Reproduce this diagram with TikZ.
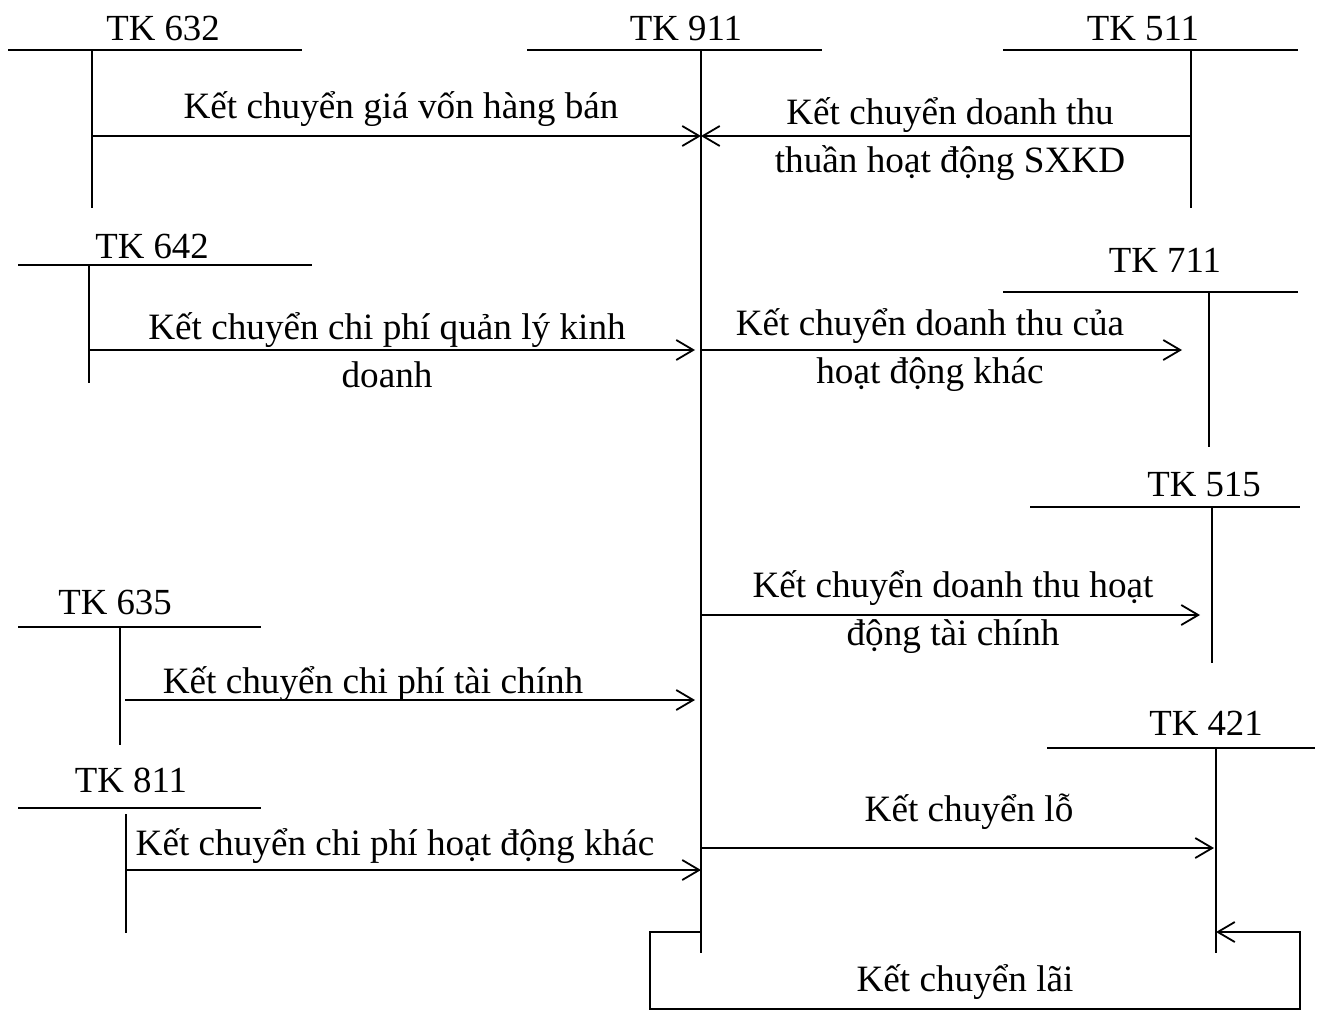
\documentclass[tikz,border=0pt]{standalone}
\usepackage{fontspec}
\setmainfont{Liberation Serif}
\usetikzlibrary{arrows.meta, positioning}

\begin{document}
\begin{tikzpicture}[
      x=0.5pt, y=-0.5pt,
      line width=0.9pt,
      acc/.style={font=\fontsize{18.4}{24}\selectfont, anchor=base, inner sep=0pt},
      txt/.style={font=\fontsize{18.6}{24}\selectfont, anchor=base, align=center, inner sep=0pt},
      flow/.style={-{Straight Barb[length=8.5pt, width=10pt, line width=0.9pt]}},
    ]
      \useasboundingbox (0,0) rectangle (1320,1012);

      % T accounts
      \node[acc] (tk632) at (163, 40) {TK 632};
      \draw (8,50) -- (302,50);   \draw (92,50) -- (92,208);
      \node[acc] (tk911) at (686, 40) {TK 911};
      \draw (527,50) -- (822,50); \draw (701,50) -- (701,953);
      \node[acc] (tk511) at (1143, 40) {TK 511};
      \draw (1003,50) -- (1298,50); \draw (1191,50) -- (1191,208);

      \node[acc] (tk642) at (152, 258) {TK 642};
      \draw (18,265) -- (312,265); \draw (89,265) -- (89,383);
      \node[acc] (tk711) at (1165, 272) {TK 711};
      \draw (1003,292) -- (1298,292); \draw (1209,292) -- (1209,447);
      \node[acc] (tk515) at (1204, 496) {TK 515};
      \draw (1030,507) -- (1300,507); \draw (1212,507) -- (1212,663);
      \node[acc] (tk635) at (115, 614) {TK 635};
      \draw (18,627) -- (261,627); \draw (120,627) -- (120,745);
      \node[acc] (tk811) at (131, 792) {TK 811};
      \draw (18,808) -- (261,808); \draw (126,814) -- (126,933);
      \node[acc] (tk421) at (1206, 735) {TK 421};
      \draw (1047,748) -- (1315,748); \draw (1216,748) -- (1216,953);

      % arrow ends
      \coordinate (s632) at (92,136);   \coordinate (e632) at (701,136);
      \coordinate (s511) at (1191,136); \coordinate (e511) at (701,136);
      \coordinate (s642) at (89,350);   \coordinate (e642) at (695,350);
      \coordinate (s711) at (701,350);  \coordinate (e711) at (1182,350);
      \coordinate (s515) at (701,615);  \coordinate (e515) at (1200,615);
      \coordinate (s635) at (125,700);  \coordinate (e635) at (695,700);
      \coordinate (s811) at (126,870);  \coordinate (e811) at (701,870);
      \coordinate (slo) at (701,848);   \coordinate (elo) at (1214,848);
      \coordinate (sla) at (701,932);   \coordinate (ela) at (1216,932);

      \draw[flow] (s632) -- (e632);
      \draw[flow] (s511) -- (e511);
      \draw[flow] (s642) -- (e642);
      \draw[flow] (s711) -- (e711);
      \draw[flow] (s515) -- (e515);
      \draw[flow] (s635) -- (e635);
      \draw[flow] (s811) -- (e811);
      \draw[flow] (slo) -- (elo);
      \draw[flow] (sla) -- (650,932) -- (650,1009) -- (1300,1009) -- (1300,932) -- (ela);

      % labels (base = last line)
      \node[txt] (l632) at (401,118) {Kết chuyển giá vốn hàng bán};
      \node[txt] (l511) at (950,172) {Kết chuyển doanh thu\\thuần hoạt động SXKD};
      \node[txt] (l642) at (387,387) {Kết chuyển chi phí quản lý kinh\\doanh};
      \node[txt] (l711) at (930,383) {Kết chuyển doanh thu của\\hoạt động khác};
      \node[txt] (l515) at (953,645) {Kết chuyển doanh thu hoạt\\động tài chính};
      \node[txt] (l635) at (373,693) {Kết chuyển chi phí tài chính};
      \node[txt] (l811) at (395,855) {Kết chuyển chi phí hoạt động khác};
      \node[txt] (llo) at (969,821) {Kết chuyển lỗ};
      \node[txt] (lla) at (965,991) {Kết chuyển lãi};
    \end{tikzpicture}
\end{document}
